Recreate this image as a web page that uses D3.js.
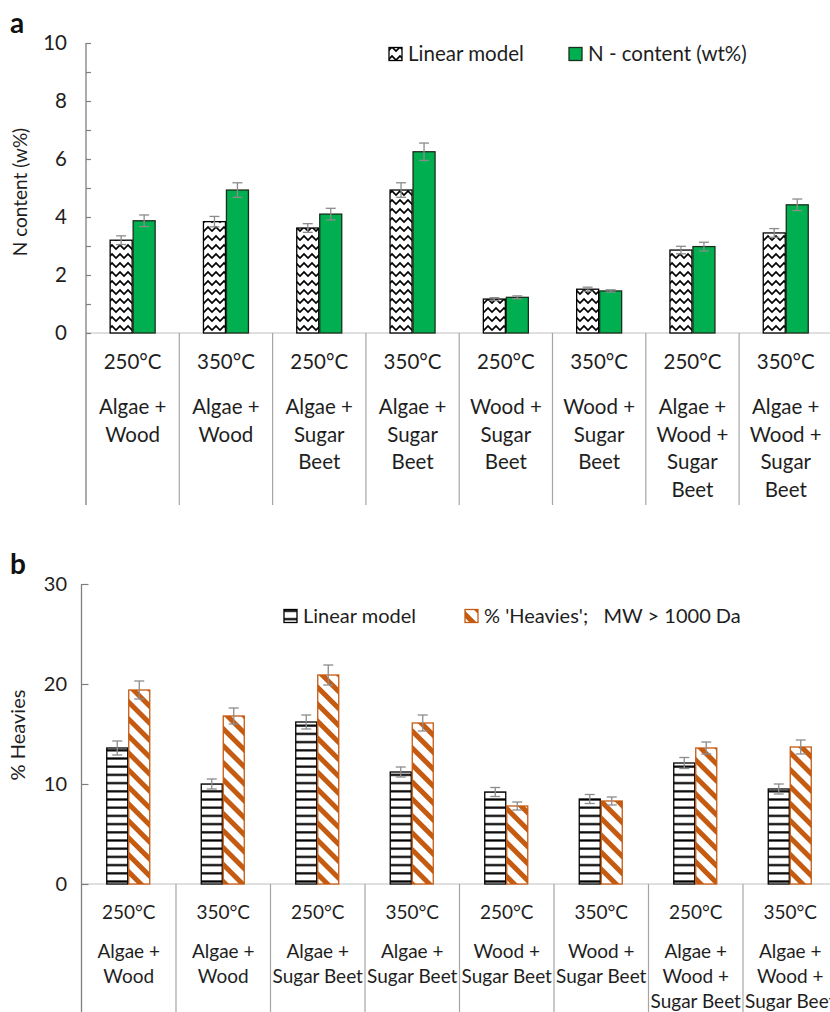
<!DOCTYPE html>
<html>
<head>
<meta charset="utf-8">
<script src="https://cdn.jsdelivr.net/npm/d3@7/dist/d3.min.js"></script>
<style>
  html, body { margin: 0; padding: 0; background: #fff; }
  svg { display: block; }
  text { font-family: Lato, "Open Sans", sans-serif; fill: #1e1e1e; }
</style>
</head>
<body>
<svg id="chart" width="830" height="1012"></svg>
<script>
// ---- data ----
const categories = ["AW250", "AW350", "AS250", "AS350", "WS250", "WS350", "AWS250", "AWS350"];
const temperatures = ["250°C", "350°C", "250°C", "350°C", "250°C", "350°C", "250°C", "350°C"];

// panel a: nitrogen content
const mixLinesA = [
  ["Algae +", "Wood"], ["Algae +", "Wood"],
  ["Algae +", "Sugar", "Beet"], ["Algae +", "Sugar", "Beet"],
  ["Wood +", "Sugar", "Beet"], ["Wood +", "Sugar", "Beet"],
  ["Algae +", "Wood +", "Sugar", "Beet"], ["Algae +", "Wood +", "Sugar", "Beet"]
];
const nLinear = [3.2, 3.84, 3.62, 4.93, 1.17, 1.51, 2.86, 3.45];
const nLinearErr = [0.15, 0.18, 0.15, 0.25, 0.05, 0.07, 0.13, 0.15];
const nContent = [3.87, 4.93, 4.1, 6.25, 1.23, 1.45, 2.98, 4.42];
const nContentErr = [0.2, 0.25, 0.2, 0.3, 0.05, 0.04, 0.15, 0.2];
const yTicksA = [0, 2, 4, 6, 8, 10];

// panel b: heavies fraction
const mixLinesB = [
  ["Algae +", "Wood"], ["Algae +", "Wood"],
  ["Algae +", "Sugar Beet"], ["Algae +", "Sugar Beet"],
  ["Wood +", "Sugar Beet"], ["Wood +", "Sugar Beet"],
  ["Algae +", "Wood +", "Sugar Beet"], ["Algae +", "Wood +", "Sugar Beet"]
];
const hLinear = [13.6, 10.0, 16.2, 11.2, 9.2, 8.5, 12.1, 9.5];
const hLinearErr = [0.7, 0.5, 0.7, 0.5, 0.45, 0.45, 0.55, 0.5];
const heavies = [19.4, 16.8, 20.9, 16.1, 7.8, 8.3, 13.6, 13.7];
const heaviesErr = [0.9, 0.8, 1.0, 0.8, 0.4, 0.4, 0.6, 0.7];
const yTicksB = [0, 10, 20, 30];

const svg = d3.select("#chart");
const defs = svg.append("defs");

// fill patterns
const zig = defs.append("pattern").attr("id", "zigzag")
  .attr("patternUnits", "userSpaceOnUse").attr("width", 8).attr("height", 9);
zig.append("rect").attr("width", 8).attr("height", 9).attr("fill", "#fff");
zig.append("path").attr("d", "M-4,6 L0,2 L4,6 L8,2 L12,6")
  .attr("fill", "none").attr("stroke", "#000").attr("stroke-width", 1.6);

const hor = defs.append("pattern").attr("id", "hlines")
  .attr("patternUnits", "userSpaceOnUse").attr("width", 8).attr("height", 8.2);
hor.append("rect").attr("width", 8).attr("height", 8.2).attr("fill", "#fff");
hor.append("rect").attr("y", 3).attr("width", 8).attr("height", 2.2).attr("fill", "#000");

const diag = defs.append("pattern").attr("id", "diag")
  .attr("patternUnits", "userSpaceOnUse").attr("width", 12).attr("height", 12)
  .attr("patternTransform", "rotate(-45)");
diag.append("rect").attr("width", 12).attr("height", 12).attr("fill", "#fff");
diag.append("rect").attr("x", 0).attr("width", 5).attr("height", 12).attr("fill", "#c55a11");

function drawPanel(cfg) {
  const g = svg.append("g");
  const x = d3.scaleBand().domain(categories).range([cfg.left, cfg.left + cfg.step * categories.length]);
  const y = d3.scaleLinear().domain([0, cfg.ymax]).range([cfg.zeroY, cfg.topY]);
  const bw = x.bandwidth();
  const inner = d3.scaleBand().domain([0, 1])
    .range([bw / 2 - cfg.barW + cfg.shift, bw / 2 + cfg.barW + cfg.shift]);

  // category axis line and separators
  g.append("line").attr("x1", cfg.left).attr("x2", 830)
    .attr("y1", cfg.zeroY).attr("y2", cfg.zeroY)
    .attr("stroke", "#bfbfbf").attr("stroke-width", 1.2);
  g.selectAll(".sep").data(categories.slice(1)).join("line")
    .attr("x1", d => x(d)).attr("x2", d => x(d))
    .attr("y1", cfg.zeroY).attr("y2", cfg.sepBottom)
    .attr("stroke", "#a6a6a6").attr("stroke-width", 1.2);

  // value axis
  const axis = d3.axisRight(y).tickValues(d3.range(0, cfg.ymax + 0.001, cfg.minorStep))
    .tickSize(cfg.tickLen).tickFormat("");
  const ag = g.append("g").attr("transform", `translate(${cfg.left},0)`).call(axis);
  ag.select(".domain").remove();
  ag.selectAll("line").attr("stroke", "#7f7f7f").attr("stroke-width", 1.2);
  g.append("line").attr("x1", cfg.left).attr("x2", cfg.left)
    .attr("y1", cfg.topY).attr("y2", cfg.axisBottom)
    .attr("stroke", "#7f7f7f").attr("stroke-width", 1.3);
  g.selectAll(".ytl").data(cfg.yTicks).join("text")
    .attr("x", cfg.tickLabelX).attr("y", d => y(d)).attr("dy", "0.35em")
    .attr("text-anchor", "end").attr("font-size", cfg.tickSize).text(d => d);

  // bars
  cfg.series.forEach((s, si) => {
    g.selectAll(".bar" + si).data(categories).join("rect")
      .attr("x", d => x(d) + inner(si) + 0.5)
      .attr("width", inner.bandwidth() - 1)
      .attr("y", (d, i) => y(s.values[i]))
      .attr("height", (d, i) => y(0) - y(s.values[i]))
      .attr("fill", s.fill).attr("stroke", s.stroke).attr("stroke-width", 1.3);
  });
  // error bars
  cfg.series.forEach((s, si) => {
    categories.forEach((d, i) => {
      const cx = x(d) + inner(si) + inner.bandwidth() / 2;
      const v = s.values[i], e = s.err[i];
      const eg = g.append("g").attr("stroke", "#8c8c8c").attr("stroke-width", 1.3);
      eg.append("line").attr("x1", cx).attr("x2", cx).attr("y1", y(v - e)).attr("y2", y(v + e));
      eg.append("line").attr("x1", cx - 5).attr("x2", cx + 5).attr("y1", y(v + e)).attr("y2", y(v + e));
      eg.append("line").attr("x1", cx - 5).attr("x2", cx + 5).attr("y1", y(v - e)).attr("y2", y(v - e));
    });
  });

  // category labels
  categories.forEach((d, i) => {
    const cx = x(d) + bw / 2;
    const lines = [temperatures[i]].concat(cfg.mixLines[i]);
    lines.forEach((t, li) => {
      const yy = li === 0 ? cfg.labelY0 : cfg.labelY1 + (li - 1) * cfg.lineH;
      g.append("text").attr("x", cx).attr("y", yy).attr("dy", "0.35em")
        .attr("text-anchor", "middle").attr("font-size", cfg.fontSize).text(t);
    });
  });

  // axis title
  g.append("text").attr("transform", `translate(${cfg.titleX},${cfg.titleY}) rotate(-90)`)
    .attr("text-anchor", "middle").attr("dy", "0.35em")
    .attr("font-size", cfg.titleSize).text(cfg.title);

  // panel letter
  g.append("text").attr("x", 10).attr("y", cfg.letterY)
    .attr("font-family", "Liberation Sans, Arial, sans-serif").attr("font-weight", "bold")
    .attr("font-size", 28).style("fill", "#111").text(cfg.letter);

  // legend
  cfg.legend.forEach(l => {
    g.append("rect").attr("x", l.x).attr("y", cfg.legendY - 6.5).attr("width", 13).attr("height", 13)
      .attr("fill", l.fill).attr("stroke", l.stroke).attr("stroke-width", 1.3);
    g.append("text").attr("x", l.x + 19).attr("y", cfg.legendY).attr("dy", "0.35em")
      .attr("font-size", cfg.legendSize).attr("xml:space", "preserve").text(l.label);
  });
}

drawPanel({
  letter: "a", letterY: 33,
  left: 86, step: 93.3, zeroY: 333, topY: 43, ymax: 10, minorStep: 1, tickLen: 5,
  yTicks: yTicksA, tickLabelX: 67, axisBottom: 505, sepBottom: 505,
  barW: 23, shift: 0, fontSize: 20.5, titleSize: 19, tickSize: 20.5, legendSize: 20.5,
  series: [
    { values: nLinear, err: nLinearErr, fill: "url(#zigzag)", stroke: "#000" },
    { values: nContent, err: nContentErr, fill: "#00b050", stroke: "#1b2e1b" }
  ],
  mixLines: mixLinesA, labelY0: 362, labelY1: 407, lineH: 27.5,
  title: "N content (w%)", titleX: 20, titleY: 192,
  legendY: 54,
  legend: [
    { x: 389, fill: "url(#zigzag)", stroke: "#000", label: "Linear model" },
    { x: 569, fill: "#00b050", stroke: "#1b2e1b", label: "N - content (wt%)" }
  ]
});

drawPanel({
  letter: "b", letterY: 574,
  left: 81.5, step: 94.5, zeroY: 884, topY: 584, ymax: 30, minorStep: 10, tickLen: 7,
  yTicks: yTicksB, tickLabelX: 67, axisBottom: 1012, sepBottom: 1012,
  barW: 22, shift: -0.5, fontSize: 19, titleSize: 20, tickSize: 20, legendSize: 20,
  series: [
    { values: hLinear, err: hLinearErr, fill: "url(#hlines)", stroke: "#000" },
    { values: heavies, err: heaviesErr, fill: "url(#diag)", stroke: "#c55a11" }
  ],
  mixLines: mixLinesB, labelY0: 912, labelY1: 951, lineH: 25,
  title: "% Heavies", titleX: 18, titleY: 735,
  legendY: 616,
  legend: [
    { x: 284, fill: "url(#hlines)", stroke: "#000", label: "Linear model" },
    { x: 465, fill: "url(#diag)", stroke: "#c55a11", label: "% 'Heavies';   MW > 1000 Da" }
  ]
});
</script>
</body>
</html>
